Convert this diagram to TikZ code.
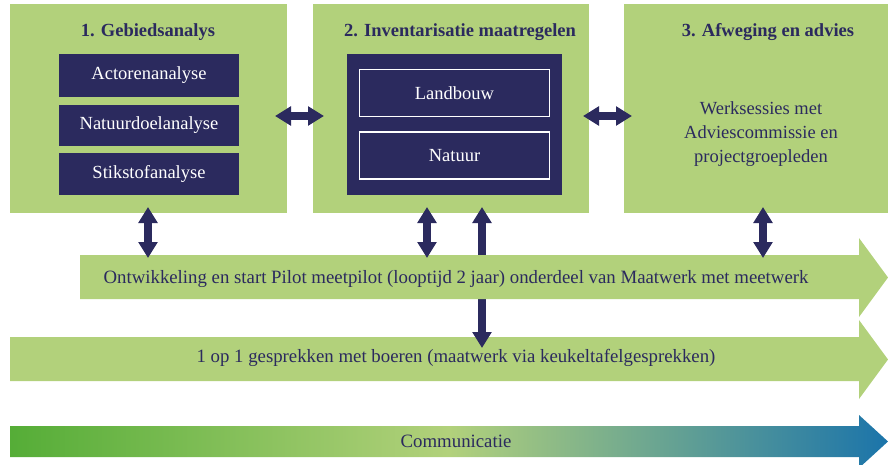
\documentclass[tikz,border=0pt]{standalone}
\usepackage{fontspec}
\setmainfont{Liberation Serif}
\usetikzlibrary{arrows.meta}
\definecolor{lg}{HTML}{B2D17B}
\definecolor{navy}{HTML}{2B2A5E}
\definecolor{dg}{HTML}{55AD37}
\definecolor{bl}{HTML}{1B74AA}
\begin{document}
\begin{tikzpicture}[x=1pt,y=-1pt,
  panel/.style={fill=lg, draw=none, outer sep=0pt, inner sep=0pt, anchor=north west},
  ttl/.style={font=\bfseries\fontsize{18.5}{20}\selectfont, text=navy},
  darkbox/.style={fill=navy, text=white, outer sep=0pt, font=\fontsize{18.5}{20}\selectfont},
  framebox/.style={fill=navy, draw=white, line width=1.5pt, text=white, outer sep=0pt, font=\fontsize{18.5}{20}\selectfont},
  bodytext/.style={text=navy, align=center, font=\fontsize{18.5}{24}\selectfont},
  bartext/.style={text=navy, font=\fontsize{18.8}{20}\selectfont},
  fat/.style={line width=8.5pt, draw=navy, {Triangle[length=16pt,width=18.5pt]}-{Triangle[length=16pt,width=18.5pt]}}
]
\useasboundingbox (0,0) rectangle (888,464);

% panels
\node[panel, minimum width=277pt, minimum height=209pt] (p1) at (10,4) {};
\node[panel, minimum width=276pt, minimum height=209pt] (p2) at (313,4) {};
\node[panel, minimum width=264pt, minimum height=209pt] (p3) at (624,4) {};

\node[ttl] (t1) at (148,32.5) {1. Gebiedsanalys};
\node[ttl] (t2) at (460,32.5) {2. Inventarisatie maatregelen};
\node[ttl] (t3) at (768,32.5) {3. Afweging en advies};

% panel 1 boxes
\node[darkbox, minimum width=180pt, minimum height=43pt] (a1) at (149,75.5) {Actorenanalyse};
\node[darkbox, minimum width=180pt, minimum height=41pt] (a2) at (149,125.5) {Natuurdoelanalyse};
\node[darkbox, minimum width=180pt, minimum height=42pt] (a3) at (149,174) {Stikstofanalyse};

% panel 2 boxes
\node[darkbox, minimum width=215pt, minimum height=141pt] (m) at (454.5,124.5) {};
\node[framebox, minimum width=190pt, minimum height=47pt] (lb) at (454.5,93) {Landbouw};
\node[framebox, minimum width=190pt, minimum height=47pt] (nt) at (454.5,155.5) {Natuur};

% panel 3 text
\node[bodytext] (w) at (761,134) {Werksessies met\\Adviescommissie en\\projectgroepleden};

% bar 2
\fill[lg] (10,337) -- (859,337) -- (859,320) -- (888,359.5) -- (859,399) -- (859,381) -- (10,381) -- cycle;
\node[bartext] (b2) at (456,357.5) {1 op 1 gesprekken met boeren (maatwerk via keukeltafelgesprekken)};

% long arrow through bar 1
\coordinate (c3t) at (482,207);
\coordinate (c3b) at (482,348);
\draw[fat] (c3t) -- (c3b);

% bar 1
\fill[lg] (80,255) -- (859,255) -- (859,238) -- (888,277.5) -- (859,317) -- (859,299) -- (80,299) -- cycle;
\node[bartext] (b1) at (456,278.5) {Ontwikkeling en start Pilot meetpilot (looptijd 2 jaar) onderdeel van Maatwerk met meetwerk};

% bar 3 (gradient)
\shade[left color=dg, right color=bl, middle color=lg] (10,426) -- (859,426) -- (859,415) -- (888,441.5) -- (859,468) -- (859,457) -- (10,457) -- cycle;
\node[bartext] (b3) at (456,441.5) {Communicatie};

% vertical arrows
\coordinate (c1t) at (148,207);
\coordinate (c1b) at (148,258);
\coordinate (c2t) at (427,207);
\coordinate (c2b) at (427,258);
\coordinate (c4t) at (763,207);
\coordinate (c4b) at (763,258);
\draw[fat] (c1t) -- (c1b);
\draw[fat] (c2t) -- (c2b);
\draw[fat] (c4t) -- (c4b);

% horizontal arrows
\coordinate (h1l) at (275,116);
\coordinate (h1r) at (324,116);
\coordinate (h2l) at (583,116);
\coordinate (h2r) at (632,116);
\draw[fat] (h1l) -- (h1r);
\draw[fat] (h2l) -- (h2r);
\end{tikzpicture}
\end{document}
